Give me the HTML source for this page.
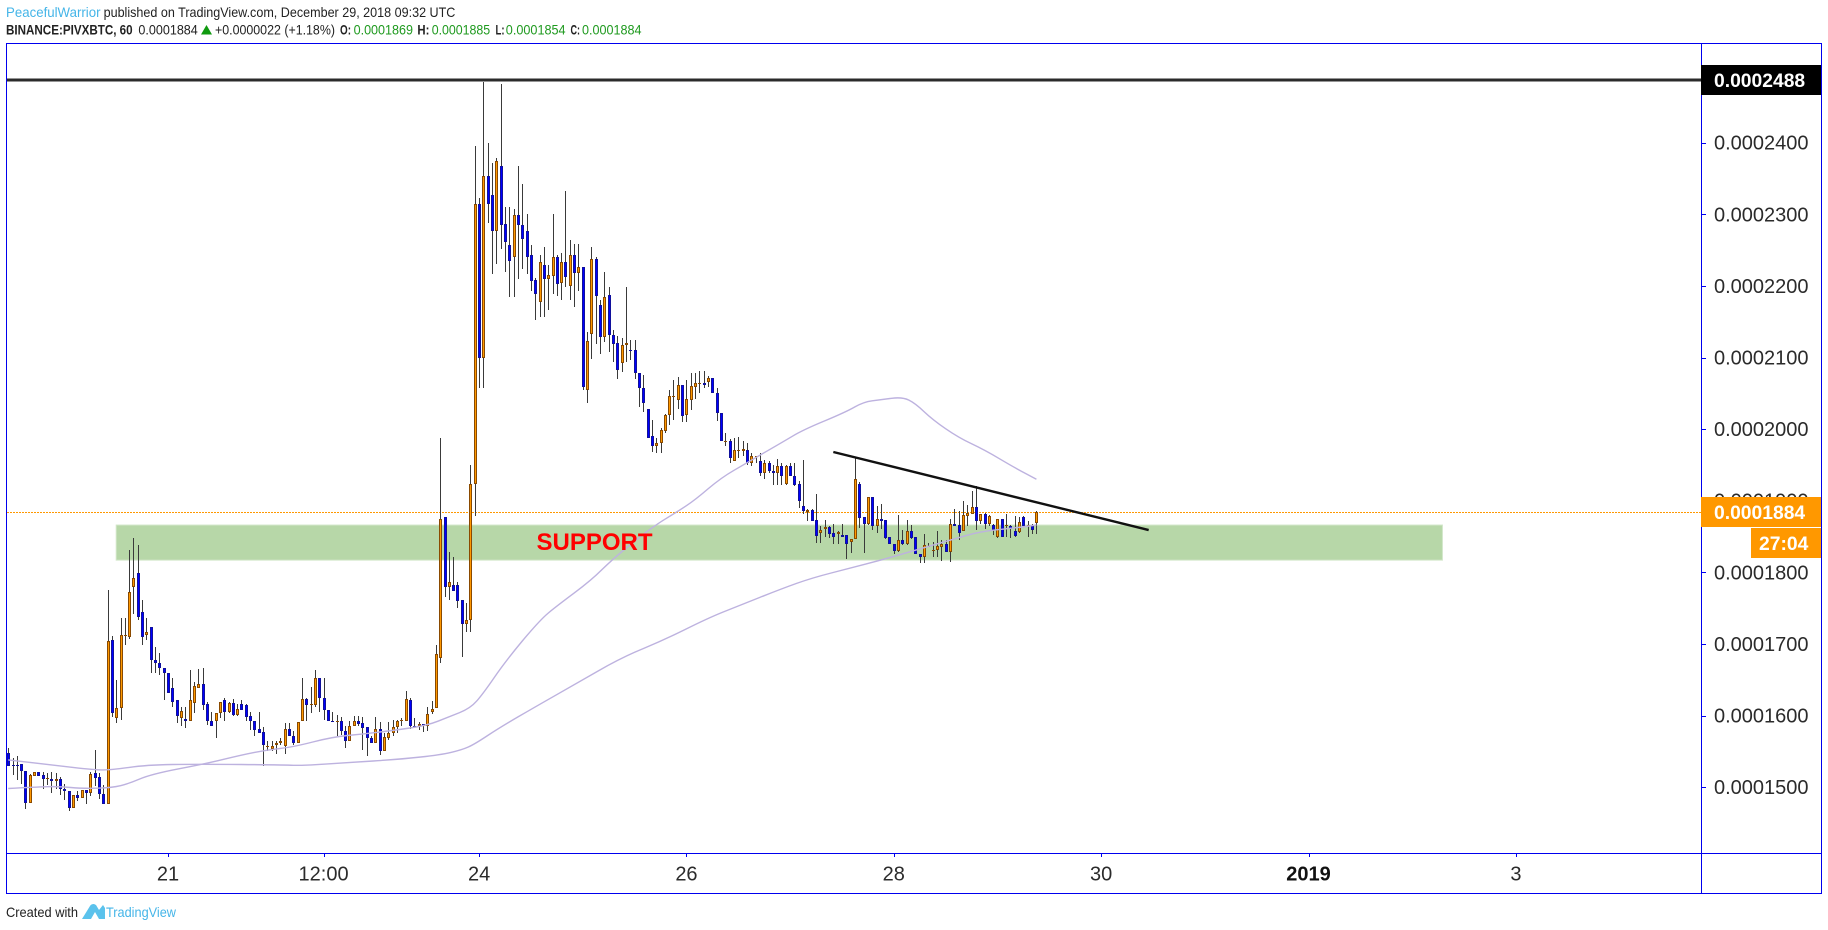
<!DOCTYPE html>
<html lang="en">
<head>
<meta charset="utf-8">
<title>PIVXBTC chart</title>
<style>
html,body{margin:0;padding:0;background:#fff;width:1828px;height:930px;overflow:hidden}
svg{display:block;font-family:"Liberation Sans",sans-serif}
.hd{font-size:14px;fill:#222}
.b{font-weight:bold}
.g{fill:#1f9a1f}
.l{fill:#45b5e8}
.tick{font-size:20px;fill:#2b2b2b}
</style>
</head>
<body>
<svg id="chart" xmlns="http://www.w3.org/2000/svg" width="1828" height="930" viewBox="0 0 1828 930">
  <rect x="0" y="0" width="1828" height="930" fill="#fff"/>
  <g>
    <text class="hd l" x="6" y="17" textLength="94.5" lengthAdjust="spacingAndGlyphs">PeacefulWarrior</text>
    <text class="hd" x="103.6" y="17" textLength="351.8" lengthAdjust="spacingAndGlyphs">published on TradingView.com, December 29, 2018 09:32 UTC</text>
  </g>
  <g>
    <text class="hd b" x="6" y="34.5" textLength="126.6" lengthAdjust="spacingAndGlyphs">BINANCE:PIVXBTC, 60</text>
    <text class="hd" x="138.4" y="34.5" textLength="59.4" lengthAdjust="spacingAndGlyphs">0.0001884</text>
    <polygon points="201,34.5 206.5,25 212,34.5" fill="#0f9a0f"/>
    <text class="hd" x="215" y="34.5" textLength="120" lengthAdjust="spacingAndGlyphs">+0.0000022 (+1.18%)</text>
    <text class="hd b" x="340" y="34.5" textLength="11" lengthAdjust="spacingAndGlyphs">O:</text>
    <text class="hd g" x="353.6" y="34.5" textLength="59.4" lengthAdjust="spacingAndGlyphs">0.0001869</text>
    <text class="hd b" x="417.4" y="34.5" textLength="12" lengthAdjust="spacingAndGlyphs">H:</text>
    <text class="hd g" x="431.7" y="34.5" textLength="58.5" lengthAdjust="spacingAndGlyphs">0.0001885</text>
    <text class="hd b" x="495.5" y="34.5" textLength="9" lengthAdjust="spacingAndGlyphs">L:</text>
    <text class="hd g" x="505.8" y="34.5" textLength="59.8" lengthAdjust="spacingAndGlyphs">0.0001854</text>
    <text class="hd b" x="570.5" y="34.5" textLength="9.5" lengthAdjust="spacingAndGlyphs">C:</text>
    <text class="hd g" x="582" y="34.5" textLength="59.5" lengthAdjust="spacingAndGlyphs">0.0001884</text>
  </g>
  <g id="plot"></g>
  <g id="axes"></g>
  <g>
    <text class="hd" x="6" y="917" textLength="72" lengthAdjust="spacingAndGlyphs">Created with</text>
    <path d="M82 919 L90 906 Q91 904 94 904 L96 905 L99 910 L103 905 L105 908 L105 919 L99 919 L95 912 L91 919 Z" fill="#5bc2ec"/>
    <text class="hd l" x="106" y="917" textLength="70" lengthAdjust="spacingAndGlyphs">TradingView</text>
  </g>
</svg>
<script>
// Prices are in units of 0.0000001 BTC; one entry per hourly bar.
const opens = [
1547,1531,1531,1532,1523,1478,1516,1521,1517,1511,
1512,1508,1511,1497,1494,1471,1489,1485,1496,1492,
1519,1514,1491,1477,1705,1597,1611,1712,1709,1780,
1799,1744,1712,1723,1677,1674,1666,1660,1639,1621,
1597,1595,1593,1618,1639,1644,1616,1592,1592,1603,
1621,1605,1617,1601,1616,1614,1599,1593,1581,1577,
1558,1553,1559,1561,1558,1581,1572,1561,1592,1623,
1614,1614,1653,1624,1607,1593,1592,1592,1579,1565,
1586,1593,1589,1584,1568,1562,1581,1551,1569,1575,
1584,1593,1593,1621,1586,1585,1588,1586,1605,1611,
1681,1877,1780,1782,1782,1761,1728,1733,1924,2315,
2099,2353,2327,2276,2367,2286,2257,2240,2299,2285,
2276,2243,2208,2178,2229,2210,2214,2240,2204,2234,
2200,2243,2218,2226,2054,2133,2238,2174,2129,2187,
2132,2120,2092,2117,2110,2110,2079,2058,2028,1990,
1977,1980,1998,2019,2046,2040,2061,2019,2041,2059,
2064,2064,2066,2072,2051,2022,1984,1984,1955,1971,
1970,1971,1952,1963,1956,1938,1952,1942,1938,1949,
1924,1949,1934,1923,1892,1884,1887,1873,1855,1860,
1863,1855,1854,1852,1852,1842,1846,1923,1877,1868,
1905,1864,1875,1873,1849,1839,1830,1845,1839,1857,
1849,1825,1822,1837,1831,1831,1835,1840,1829,1868,
1866,1858,1879,1882,1891,1872,1881,1867,1866,1849,
1874,1864,1864,1857,1856,1877,1866,1864,1869];
const highs = [
1554,1540,1544,1532,1523,1518,1521,1521,1521,1519,
1521,1520,1514,1505,1494,1489,1495,1496,1496,1521,
1552,1519,1503,1775,1711,1650,1736,1736,1831,1848,
1838,1761,1736,1723,1696,1687,1666,1660,1652,1621,
1612,1612,1663,1647,1665,1667,1619,1605,1603,1619,
1624,1619,1623,1616,1622,1616,1605,1593,1605,1584,
1564,1564,1564,1569,1590,1590,1578,1591,1652,1624,
1640,1663,1653,1653,1607,1605,1601,1598,1585,1592,
1600,1600,1598,1584,1571,1598,1591,1575,1591,1594,
1594,1596,1634,1625,1597,1591,1588,1612,1620,1699,
1988,1877,1828,1821,1786,1761,1757,1950,2395,2323,
2485,2399,2371,2378,2482,2310,2310,2308,2367,2343,
2301,2257,2211,2243,2254,2229,2301,2243,2246,2332,
2264,2259,2259,2226,2135,2255,2240,2180,2219,2199,
2138,2130,2127,2199,2124,2124,2079,2075,2028,2013,
1987,2001,2021,2055,2069,2073,2061,2068,2078,2079,
2081,2081,2074,2072,2058,2022,1994,1986,1987,1989,
1984,1980,1967,1963,1966,1957,1956,1950,1958,1952,
1950,1952,1952,1927,1957,1888,1889,1910,1865,1873,
1865,1867,1857,1867,1852,1846,1960,1926,1877,1905,
1905,1892,1896,1873,1849,1840,1880,1859,1873,1866,
1849,1825,1854,1841,1843,1858,1845,1845,1874,1888,
1886,1900,1894,1914,1921,1882,1883,1880,1868,1875,
1875,1881,1866,1879,1877,1878,1871,1868,1885];
const lows = [
1530,1517,1510,1504,1470,1478,1516,1516,1498,1503,
1492,1498,1489,1482,1466,1471,1481,1485,1476,1487,
1502,1483,1477,1477,1598,1590,1594,1699,1707,1742,
1733,1699,1705,1659,1659,1656,1622,1631,1612,1590,
1585,1582,1593,1603,1639,1607,1587,1586,1569,1596,
1592,1604,1600,1600,1607,1592,1580,1571,1575,1529,
1550,1550,1546,1559,1546,1572,1559,1561,1592,1592,
1604,1612,1605,1594,1592,1592,1571,1573,1555,1565,
1585,1585,1552,1544,1561,1561,1545,1550,1566,1572,
1575,1585,1593,1581,1582,1580,1577,1579,1602,1611,
1674,1766,1761,1774,1750,1682,1717,1717,1879,2058,
2058,2288,2216,2230,2251,2219,2185,2185,2209,2223,
2216,2193,2153,2156,2156,2166,2189,2186,2181,2198,
2181,2171,2193,2055,2036,2098,2119,2105,2122,2107,
2094,2070,2080,2094,2097,2070,2031,2024,1988,1968,
1967,1967,1995,2006,2013,2028,2010,2010,2026,2042,
2051,2058,2059,2051,2012,1984,1976,1952,1955,1960,
1963,1950,1948,1952,1934,1931,1938,1922,1922,1922,
1922,1934,1920,1890,1882,1872,1872,1841,1841,1850,
1848,1840,1840,1850,1818,1827,1846,1862,1827,1866,
1859,1855,1861,1847,1839,1826,1829,1838,1838,1847,
1825,1813,1813,1835,1822,1822,1816,1829,1815,1865,
1845,1858,1864,1881,1859,1868,1861,1864,1852,1848,
1849,1849,1848,1850,1855,1864,1850,1854,1854];
const closes = [
1530,1530,1529,1522,1478,1517,1521,1516,1511,1513,
1508,1511,1497,1494,1471,1489,1485,1496,1492,1518,
1513,1490,1477,1704,1604,1610,1712,1712,1772,1792,
1738,1709,1716,1677,1674,1666,1660,1632,1619,1600,
1606,1593,1621,1641,1644,1615,1593,1586,1603,1619,
1605,1617,1601,1609,1607,1598,1593,1580,1576,1559,
1558,1558,1561,1565,1581,1572,1561,1591,1623,1614,
1616,1653,1624,1607,1593,1592,1592,1579,1565,1586,
1593,1588,1583,1568,1562,1581,1551,1570,1575,1584,
1593,1594,1623,1586,1585,1588,1586,1602,1609,1686,
1875,1780,1786,1774,1760,1728,1733,1924,2315,2099,
2353,2314,2276,2375,2285,2262,2235,2299,2285,2266,
2240,2207,2188,2234,2210,2215,2240,2203,2234,2212,
2243,2218,2226,2059,2123,2238,2186,2129,2184,2132,
2119,2082,2117,2120,2109,2079,2058,2037,1988,1977,
1980,1999,2019,2046,2046,2061,2018,2042,2060,2064,
2064,2061,2072,2051,2022,1984,1984,1959,1971,1971,
1972,1952,1963,1963,1938,1952,1942,1938,1949,1935,
1949,1935,1922,1899,1886,1887,1872,1851,1859,1863,
1853,1849,1856,1850,1839,1846,1930,1876,1868,1905,
1865,1875,1872,1848,1839,1830,1845,1839,1857,1848,
1825,1821,1838,1837,1831,1837,1840,1829,1868,1865,
1855,1880,1883,1891,1872,1881,1867,1878,1859,1874,
1850,1866,1861,1851,1870,1864,1866,1859,1884];

const slowMaBars = [0,10,20,24,32,44,64,68,78,91,100,105,108,114,122,131,142,152,162,169,179,186,195,202,209,218,225,233,238];
const slowMaValues = [1538,1531,1524,1524,1531,1532,1531,1530,1534,1539,1545,1552,1560,1584,1612,1643,1681,1706,1736,1753,1777,1792,1806,1817,1829,1845,1857,1862,1866];
const fastMaBars = [0,6,12,17,24,28,33,46,54,60,66,75,82,89,97,102,107,110,115,123,127,135,140,149,155,159,165,171,179,184,194,198,202,207,210,214,220,226,233,238];
const fastMaValues = [1498,1500,1501,1498,1499,1505,1518,1533,1545,1552,1556,1570,1574,1579,1586,1598,1610,1631,1675,1733,1753,1789,1819,1863,1885,1901,1932,1953,1981,1999,2024,2038,2041,2045,2036,2013,1988,1971,1946,1930];

const priceTicks = [1500,1600,1700,1800,1900,2000,2100,2200,2300,2400];
const priceTickLabels = ["0.0001500","0.0001600","0.0001700","0.0001800","0.0001900","0.0002000","0.0002100","0.0002200","0.0002300","0.0002400"];
const timeTickBars = [37,73,109,157,205,253,301,349];
const timeTickLabels = ["21","12:00","24","26","28","30","2019","3"];
const timeTickBold = [false,false,false,false,false,false,true,false];

const levelPrice = 2488;
const levelLabel = "0.0002488";
const lastPrice = 1884;
const lastPriceLabel = "0.0001884";
const countdownLabel = "27:04";
const supportBars = [25,332];
const supportPrices = [1866,1817];
const supportText = "SUPPORT";
const trendBars = [191,264];
const trendPrices = [1968,1859];

const NS = 'http://www.w3.org/2000/svg';
function xAt(bar){ return 8.2 + 4.32 * bar; }
function yAt(price){ return 572.3 - (price - 1800) * 0.716; }
function mk(parent, tag, attrs, text){
  const el = document.createElementNS(NS, tag);
  for (const k in attrs) el.setAttribute(k, attrs[k]);
  if (text !== undefined) el.textContent = text;
  parent.appendChild(el);
  return el;
}
const plot = document.getElementById('plot');
const axes = document.getElementById('axes');

// support zone
const zone = mk(plot, 'rect', {
  x: xAt(supportBars[0]), y: yAt(supportPrices[0]),
  width: xAt(supportBars[1]) - xAt(supportBars[0]),
  height: yAt(supportPrices[1]) - yAt(supportPrices[0]),
  fill: '#b7d7a8', stroke: '#d2e6c9', 'stroke-width': 1
});



// last price dotted line
const lastLine = mk(plot, 'line', {
  x1: 7, x2: 1701, y1: Math.round(yAt(lastPrice)) + 0.5, y2: Math.round(yAt(lastPrice)) + 0.5,
  stroke: '#ff9800', 'stroke-width': 1, 'stroke-dasharray': '2 1'
});



// candles
const candleGroup = mk(plot, 'g', {'shape-rendering': 'crispEdges'});


closes.forEach(function(close, i){
  const px = Math.round(xAt(i));
  const up = close >= opens[i];
  const g = mk(candleGroup, 'g', {});
  
  
  const hi = Math.round(yAt(highs[i]));
  const lo = Math.round(yAt(lows[i]));
  mk(g, 'rect', {x: px, y: hi, width: 1, height: Math.max(1, lo - hi), fill: '#3a3a3a'});
  const top = Math.round(yAt(Math.max(opens[i], close)));
  const bot = Math.round(yAt(Math.min(opens[i], close)));
  const h = Math.max(1, bot - top);
  const border = up ? '#8a4a00' : '#10109c';
  const fill = up ? '#ff9800' : '#0000ff';
  mk(g, 'rect', {x: px - 1, y: top, width: 3, height: h, fill: border});
  if (h > 2) mk(g, 'rect', {x: px, y: top + 1, width: 1, height: h - 2, fill: fill});
});

// moving averages, smoothed through midpoints between the read values
function maPath(bars, values){
  const pts = bars.map(function(b, i){ return [xAt(b), yAt(values[i])]; });
  let d = 'M' + pts[0][0].toFixed(1) + ' ' + pts[0][1].toFixed(1);
  for (let i = 1; i < pts.length - 1; i++) {
    const mx = (pts[i][0] + pts[i + 1][0]) / 2;
    const my = (pts[i][1] + pts[i + 1][1]) / 2;
    d += ' Q' + pts[i][0].toFixed(1) + ' ' + pts[i][1].toFixed(1) + ' ' + mx.toFixed(1) + ' ' + my.toFixed(1);
  }
  const last = pts[pts.length - 1];
  return d + ' L' + last[0].toFixed(1) + ' ' + last[1].toFixed(1);
}
const slowLine = mk(plot, 'path', {d: maPath(slowMaBars, slowMaValues), fill: 'none', stroke: '#bdb2df', 'stroke-width': 1.4});


const fastLine = mk(plot, 'path', {d: maPath(fastMaBars, fastMaValues), fill: 'none', stroke: '#bdb2df', 'stroke-width': 1.4});



// trend line
const trend = mk(plot, 'line', {
  x1: xAt(trendBars[0]), y1: yAt(trendPrices[0]), x2: xAt(trendBars[1]), y2: yAt(trendPrices[1]),
  stroke: '#111', 'stroke-width': 2.4
});



// horizontal level
const level = mk(plot, 'rect', {x: 7, y: Math.round(yAt(levelPrice)) - 1.5, width: 1694, height: 3, fill: '#2b2b2b'});



// support label
const supLabel = mk(plot, 'text', {x: 536.5, y: 550, 'font-size': 24, 'font-weight': 'bold', fill: '#ff0000'}, supportText);



// frame
const frame = mk(axes, 'path', {
  d: 'M6.5 43.5 H1821.5 V893.5 H6.5 Z M6.5 853.5 H1821.5 M1701.5 43.5 V893.5',
  fill: 'none', stroke: '#0000ee', 'stroke-width': 1, 'shape-rendering': 'crispEdges'
});



// price axis
priceTicks.forEach(function(p, i){
  const y = yAt(p);
  const t = mk(axes, 'line', {x1: 1701, x2: 1706, y1: Math.round(y) + 0.5, y2: Math.round(y) + 0.5, stroke: '#0000ee', 'stroke-width': 1});
  
  
  const lab = mk(axes, 'text', {x: 1714, y: y + 7, class: 'tick'}, priceTickLabels[i]);
  
  
});

// time axis
timeTickBars.forEach(function(b, i){
  const x = xAt(b);
  const t = mk(axes, 'line', {x1: Math.round(x) + 0.5, x2: Math.round(x) + 0.5, y1: 853, y2: 857, stroke: '#0000ee', 'stroke-width': 1});
  
  
  const attrs = {x: x, y: 880.5, class: 'tick', 'text-anchor': 'middle'};
  if (timeTickBold[i]) { attrs['font-weight'] = 'bold'; attrs.style = 'fill:#111'; }
  const lab = mk(axes, 'text', attrs, timeTickLabels[i]);
  
  
});

// price tags
function tag(name, x, yTop, w, h, color, textX, label){
  const r = mk(axes, 'rect', {x: x, y: yTop, width: w, height: h, fill: color});
  
  
  const t = mk(axes, 'text', {x: textX, y: yTop + h / 2 + 7, 'font-size': 19.3, 'font-weight': 'bold', fill: '#fff'}, label);
  
  
}
tag('level-price-tag', 1701, Math.round(yAt(levelPrice)) - 15, 120, 30, '#000', 1714, levelLabel);
tag('last-price-tag', 1701, Math.round(yAt(lastPrice)) - 15, 120, 30, '#ff9800', 1714, lastPriceLabel);
tag('countdown-tag', 1751, Math.round(yAt(lastPrice)) + 16, 70, 30, '#ff9800', 1759, countdownLabel);
</script>
</body>
</html>
